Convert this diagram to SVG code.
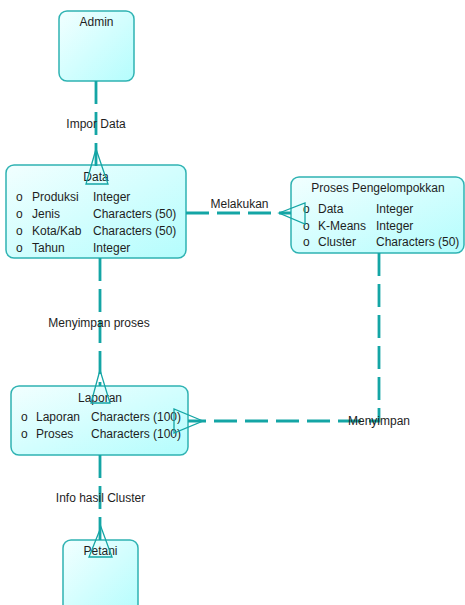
<svg xmlns="http://www.w3.org/2000/svg" width="465" height="605" viewBox="0 0 465 605">
<defs>
<linearGradient id="fill" x1="0" y1="0" x2="1" y2="1">
<stop offset="0" stop-color="#f2ffff"/>
<stop offset="1" stop-color="#b4fdfd"/>
</linearGradient>
<style>
.box{fill:url(#fill);stroke:#2fb3b3;stroke-width:1.5}
.t{font-family:"Liberation Sans",Arial,sans-serif;font-size:12px;fill:#1e1e1e}
.c{text-anchor:middle}
.ln{fill:none;stroke:#14a5a5;stroke-width:2.8;stroke-dasharray:23 8}
.cf{fill:none;stroke:#14a5a5;stroke-width:1.3}
</style>
</defs>
<rect width="465" height="605" fill="#ffffff"/>
<g id="admin">
<rect class="box" x="59" y="11" width="75" height="70" rx="8"/>
<text class="t c" x="96.5" y="26">Admin</text>
</g>
<g id="data">
<rect class="box" x="6" y="165" width="180" height="93" rx="8"/>
<text class="t c" x="96" y="181">Data</text>
<text class="t" x="16" y="201">o</text><text class="t" x="32" y="201">Produksi</text><text class="t" x="93" y="201">Integer</text>
<text class="t" x="16" y="218">o</text><text class="t" x="32" y="218">Jenis</text><text class="t" x="93" y="218">Characters (50)</text>
<text class="t" x="16" y="235">o</text><text class="t" x="32" y="235">Kota/Kab</text><text class="t" x="93" y="235">Characters (50)</text>
<text class="t" x="16" y="252">o</text><text class="t" x="32" y="252">Tahun</text><text class="t" x="93" y="252">Integer</text>
</g>
<g id="proses">
<rect class="box" x="291" y="177" width="173" height="76" rx="8"/>
<text class="t c" x="378" y="192">Proses Pengelompokkan</text>
<text class="t" x="303" y="213">o</text><text class="t" x="318" y="213">Data</text><text class="t" x="376" y="213">Integer</text>
<text class="t" x="303" y="230">o</text><text class="t" x="318" y="230">K-Means</text><text class="t" x="376" y="230">Integer</text>
<text class="t" x="303" y="246">o</text><text class="t" x="318" y="246">Cluster</text><text class="t" x="376" y="246">Characters (50)</text>
</g>
<g id="laporan">
<rect class="box" x="11" y="386" width="177" height="69" rx="8"/>
<text class="t c" x="100" y="402">Laporan</text>
<text class="t" x="21" y="421">o</text><text class="t" x="36" y="421">Laporan</text><text class="t" x="91" y="421">Characters (100)</text>
<text class="t" x="21" y="438">o</text><text class="t" x="36" y="438">Proses</text><text class="t" x="91" y="438">Characters (100)</text>
</g>
<g id="petani">
<rect class="box" x="63" y="540" width="75" height="75" rx="8"/>
<text class="t c" x="100.5" y="555">Petani</text>
</g>
<g id="connectors">
<path class="ln" d="M96 81 V166"/>
<path class="ln" d="M100 258 V386"/>
<path class="ln" d="M186 213 H291"/>
<path class="ln" d="M379 253 V421 H188"/>
<path class="ln" d="M100 455 V540"/>
<polygon class="cf" points="96,149 86,184 108,184"/>
<polygon class="cf" points="100,370 91,403 110,403"/>
<polygon class="cf" points="279,213 305,203 305,224"/>
<polygon class="cf" points="203,421 174,409 174,433"/>
<polygon class="cf" points="101,527 89,557 112,557"/>
<text class="t c" x="96" y="128">Impor Data</text>
<text class="t c" x="99" y="327">Menyimpan proses</text>
<text class="t c" x="239.5" y="208">Melakukan</text>
<text class="t c" x="379" y="425">Menyimpan</text>
<text class="t c" x="100.5" y="502">Info hasil Cluster</text>
</g>
</svg>
